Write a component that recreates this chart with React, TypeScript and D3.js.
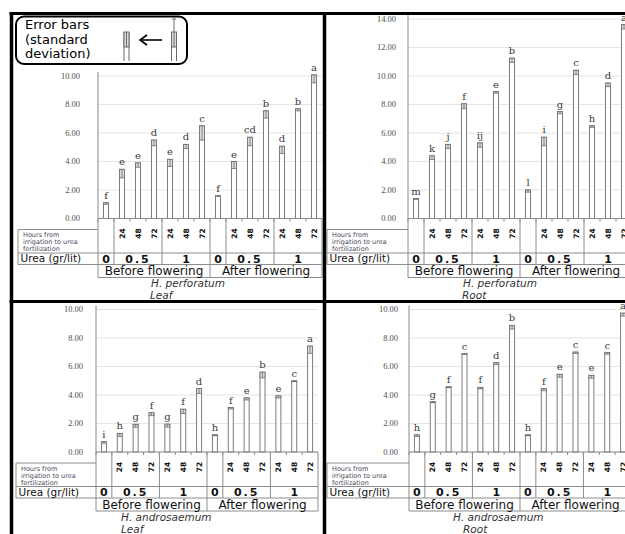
import React from "react";
import * as d3 from "d3";

// Treatment structure shared by every panel
const stages = ["Before flowering", "After flowering"];
const ureaLevels = ["0", "0.5", "1"];
const hourLabels = ["24", "48", "72"];

// H. perforatum – leaf
const perforatumLeafMeans = [1.1, 3.45, 3.9, 5.5, 4.15, 5.2, 6.5, 1.6, 4.0, 5.7, 7.55, 5.07, 7.7, 10.07];
const perforatumLeafSd = [0.1, 0.6, 0.3, 0.4, 0.5, 0.3, 1.0, 0.05, 0.5, 0.6, 0.5, 0.5, 0.15, 0.55];
const perforatumLeafLetters = ["f", "e", "e", "d", "e", "d", "c", "f", "e", "cd", "b", "d", "b", "a"];

// H. perforatum – root
const perforatumRootMeans = [1.4, 4.4, 5.2, 8.05, 5.3, 8.9, 11.25, 2.0, 5.7, 7.5, 10.4, 6.5, 9.5, 13.6];
const perforatumRootSd = [0.05, 0.25, 0.3, 0.35, 0.3, 0.1, 0.3, 0.15, 0.6, 0.15, 0.3, 0.1, 0.25, 0.3];
const perforatumRootLetters = ["m", "k", "j", "f", "ij", "e", "b", "l", "i", "g", "c", "h", "d", "a"];

// H. androsaemum – leaf
const androsaemumLeafMeans = [0.72, 1.3, 1.94, 2.75, 1.95, 3.0, 4.45, 1.2, 3.12, 3.8, 5.6, 3.94, 4.99, 7.43];
const androsaemumLeafSd = [0.1, 0.2, 0.2, 0.2, 0.2, 0.3, 0.35, 0.05, 0.1, 0.15, 0.4, 0.15, 0.05, 0.5];
const androsaemumLeafLetters = ["i", "h", "g", "f", "g", "f", "d", "h", "f", "e", "b", "e", "c", "a"];

// H. androsaemum – root
const androsaemumRootMeans = [1.2, 3.52, 4.57, 6.9, 4.53, 6.27, 8.88, 1.2, 4.45, 5.45, 7.01, 5.38, 6.97, 9.74];
const androsaemumRootSd = [0.1, 0.05, 0.05, 0.05, 0.1, 0.15, 0.25, 0.05, 0.15, 0.2, 0.1, 0.2, 0.1, 0.2];
const androsaemumRootLetters = ["h", "g", "f", "c", "f", "d", "b", "h", "f", "e", "c", "e", "c", "a"];

type Cat = { stage: number; urea: number; hour: number | null };
const categories: Cat[] = [];
stages.forEach((_, s) => {
  ureaLevels.forEach((_, u) => {
    if (u === 0) categories.push({ stage: s, urea: u, hour: null });
    else hourLabels.forEach((_, h) => categories.push({ stage: s, urea: u, hour: h }));
  });
});

const SANS = "'DejaVu Sans', Verdana, sans-serif";
const SERIF = "'Liberation Serif', 'Times New Roman', serif";
const LETTER_SERIF = "'DejaVu Serif', serif";
const GRID = "#e4e4e4";
const TABLE = "#8c8c8c";
const PX_PER_UNIT = 14.25;

type PanelProps = {
  axisX: number;
  plotW: number;
  y0: number;
  yMax: number;
  means: number[];
  sds: number[];
  letters: string[];
  species: string;
  organ: string;
  titleX: number;
  organX: number;
  tickRight: number;
  cellLeft: number;
};

function Panel(p: PanelProps) {
  const { axisX, plotW, y0, yMax } = p;
  const x = d3
    .scaleBand<number>()
    .domain(categories.map((_, i) => i))
    .range([axisX, axisX + plotW]);
  const y = d3.scaleLinear().domain([0, yMax]).range([y0, y0 - yMax * PX_PER_UNIT]);
  const right = axisX + plotW;
  const ticks = d3.range(0, yMax + 0.001, 2);

  // column spans for the urea cells and the stage cells
  const groups: { start: number; count: number; urea: number }[] = [];
  categories.forEach((c, i) => {
    const last = groups[groups.length - 1];
    if (last && categories[last.start].stage === c.stage && last.urea === c.urea) last.count++;
    else groups.push({ start: i, count: 1, urea: c.urea });
  });
  const stageSpans = stages.map((_, s) => {
    const idx = categories.map((c, i) => (c.stage === s ? i : -1)).filter((i) => i >= 0);
    return { start: idx[0], count: idx.length };
  });
  const edge = (i: number) => (i >= categories.length ? right : (x(i) as number));

  const rHours = y0 + 11;
  const rUrea = y0 + 34.5;
  const rStage = y0 + 46;
  const rEnd = y0 + 59;
  const bw = 5;

  return (
    <g>
      {/* gridlines */}
      {ticks.map((t) => (
        <line key={"g" + t} x1={axisX} x2={right} y1={y(t)} y2={y(t)} stroke={GRID} strokeWidth={1} />
      ))}
      {/* y tick labels */}
      {ticks.map((t) => (
        <text
          key={"t" + t}
          x={p.tickRight}
          y={y(t)}
          dy="0.35em"
          textAnchor="end"
          fontFamily={SERIF}
          fontSize={8.5}
          fill="#4d4d4d"
        >
          {t.toFixed(2)}
        </text>
      ))}
      <line x1={axisX} x2={axisX} y1={y(yMax) - 4} y2={y0} stroke="#8a8a8a" strokeWidth={1} />

      {/* bars with error boxes and significance letters */}
      {p.means.map((v, i) => {
        const cx = (x(i) as number) + x.bandwidth() / 2;
        const top = y(v);
        const errBottom = y(Math.max(0, v - p.sds[i]));
        return (
          <g key={"b" + i}>
            <rect x={cx - bw / 2} y={top} width={bw} height={y0 - top} fill="#fff" stroke="#7d7d7d" strokeWidth={1} />
            <rect
              x={cx - bw / 2}
              y={top}
              width={bw}
              height={Math.max(0.8, errBottom - top)}
              fill="#dcdcdc"
              stroke="#6f6f6f"
              strokeWidth={0.8}
            />
            <line x1={cx} x2={cx} y1={top} y2={errBottom} stroke="#6f6f6f" strokeWidth={0.8} />
            <text
              x={cx}
              y={top - 4}
              textAnchor="middle"
              fontFamily={LETTER_SERIF}
              fontSize={10}
              fill="#3a3a3a"
            >
              {p.letters[i]}
            </text>
          </g>
        );
      })}

      {/* data table under the plot */}
      <g stroke={TABLE} strokeWidth={1} fill="none">
        <line x1={axisX} x2={right} y1={y0} y2={y0} />
        {categories.map((_, i) => (
          <line key={"tk" + i} x1={edge(i)} x2={edge(i)} y1={y0} y2={y0 + 3} />
        ))}
        {groups.map((g) => (
          <line key={"gv" + g.start} x1={edge(g.start)} x2={edge(g.start)} y1={y0} y2={rStage} />
        ))}
        <line x1={right} x2={right} y1={y0} y2={rEnd} />
        <line x1={p.cellLeft} x2={axisX} y1={rHours} y2={rHours} />
        <line x1={p.cellLeft} x2={p.cellLeft} y1={rHours} y2={rStage} />
        <line x1={p.cellLeft} x2={right} y1={rUrea} y2={rUrea} />
        <line x1={p.cellLeft} x2={right} y1={rStage} y2={rStage} />
        {stageSpans.map((s) => (
          <line key={"sv" + s.start} x1={edge(s.start)} x2={edge(s.start)} y1={rStage} y2={rEnd} />
        ))}
        <line x1={axisX} x2={right} y1={rEnd} y2={rEnd} />
      </g>

      {["Hours from", "irrigation to urea", "fertilization"].map((s, k) => (
        <text key={"h" + k} x={p.cellLeft + 5} y={rHours + 7.5 + k * 7} fontFamily={SANS} fontSize={6.5} fill="#4a4a5a">
          {s}
        </text>
      ))}
      <text x={p.cellLeft + 2.5} y={rStage - 2.5} fontFamily={SANS} fontSize={10.5} fill="#111">
        Urea (gr/lit)
      </text>

      {categories.map((c, i) =>
        c.hour === null ? null : (
          <text
            key={"hr" + i}
            transform={`translate(${(x(i) as number) + x.bandwidth() / 2},${y0 + 15}) rotate(-90)`}
            textAnchor="middle"
            dy="0.35em"
            fontFamily={SANS}
            fontWeight="bold"
            fontSize={7.5}
            fill="#111"
          >
            {hourLabels[c.hour]}
          </text>
        )
      )}

      {groups.map((g) => (
        <text
          key={"u" + g.start}
          x={(edge(g.start) + edge(g.start + g.count)) / 2}
          y={rStage - 2}
          textAnchor="middle"
          fontFamily={SANS}
          fontWeight="bold"
          fontSize={11}
          letterSpacing={g.urea === 1 ? 2 : 0}
          fill="#111"
        >
          {ureaLevels[g.urea]}
        </text>
      ))}

      {stageSpans.map((s, k) => (
        <text
          key={"st" + k}
          x={(edge(s.start) + edge(s.start + s.count)) / 2}
          y={rEnd - 2.5}
          textAnchor="middle"
          fontFamily={SANS}
          fontSize={12}
          fill="#111"
        >
          {stages[k]}
        </text>
      ))}

      <text x={p.titleX} y={y0 + 68.5} fontFamily={SANS} fontStyle="italic" fontSize={10.5} fill="#333">
        {p.species}
      </text>
      <text x={p.organX} y={y0 + 80.5} fontFamily={SANS} fontStyle="italic" fontSize={10.5} fill="#333">
        {p.organ}
      </text>
    </g>
  );
}

function ErrorBarIcon({ cx, withWhisker }: { cx: number; withWhisker: boolean }) {
  return (
    <g>
      <line x1={cx - 2.5} x2={cx - 2.5} y1={32} y2={61} stroke="#6a6a6a" strokeWidth={1} />
      <line x1={cx + 2.5} x2={cx + 2.5} y1={32} y2={61} stroke="#6a6a6a" strokeWidth={1} />
      <rect x={cx - 2.5} y={32} width={5} height={15} fill="#dcdcdc" stroke="#6a6a6a" strokeWidth={1} />
      <line x1={cx} x2={cx} y1={withWhisker ? 19 : 32} y2={47} stroke="#6a6a6a" strokeWidth={1} />
      {withWhisker && <line x1={cx - 2} x2={cx + 2} y1={19} y2={19} stroke="#6a6a6a" strokeWidth={1} />}
    </g>
  );
}

export default function App() {
  return (
    <svg
      width={625}
      height={534}
      style={{ position: "absolute", left: 0, top: 0, background: "#fff" }}
    >
      <rect width={625} height={534} fill="#fff" />
      <Panel
        axisX={98}
        plotW={224}
        y0={218.5}
        yMax={10}
        means={perforatumLeafMeans}
        sds={perforatumLeafSd}
        letters={perforatumLeafLetters}
        species="H. perforatum"
        organ="Leaf"
        titleX={151}
        organX={150}
        tickRight={80}
        cellLeft={18}
      />
      <Panel
        axisX={408}
        plotW={224}
        y0={218.5}
        yMax={14}
        means={perforatumRootMeans}
        sds={perforatumRootSd}
        letters={perforatumRootLetters}
        species="H. perforatum"
        organ="Root"
        titleX={463}
        organX={462}
        tickRight={396}
        cellLeft={327}
      />
      <Panel
        axisX={96}
        plotW={222}
        y0={452}
        yMax={10}
        means={androsaemumLeafMeans}
        sds={androsaemumLeafSd}
        letters={androsaemumLeafLetters}
        species="H. androsaemum"
        organ="Leaf"
        titleX={121}
        organX={121}
        tickRight={83}
        cellLeft={16}
      />
      <Panel
        axisX={409}
        plotW={222}
        y0={452}
        yMax={10}
        means={androsaemumRootMeans}
        sds={androsaemumRootSd}
        letters={androsaemumRootLetters}
        species="H. androsaemum"
        organ="Root"
        titleX={453}
        organX={463}
        tickRight={398}
        cellLeft={327}
      />

      {/* legend for the error bars */}
      <rect x={16} y={16.5} width={171} height={47.5} rx={8} fill="#fff" stroke="#000" strokeWidth={2} />
      {["Error bars", "(standard", "deviation)"].map((s, k) => (
        <text key={k} x={25} y={29 + k * 14.5} fontFamily={SANS} fontSize={13} fill="#000">
          {s}
        </text>
      ))}
      <ErrorBarIcon cx={126.5} withWhisker={false} />
      <ErrorBarIcon cx={174} withWhisker={true} />
      <line x1={142} x2={162} y1={40} y2={40} stroke="#000" strokeWidth={1.6} />
      <path d="M147,35 L140,40 L147,45" fill="none" stroke="#000" strokeWidth={1.6} />

      {/* panel frames */}
      <g stroke="#000">
        <line x1={9.5} x2={625} y1={13.5} y2={13.5} strokeWidth={3} />
        <line x1={11.5} x2={11.5} y1={12} y2={534} strokeWidth={3.5} />
        <line x1={324.5} x2={324.5} y1={12} y2={534} strokeWidth={3.5} />
        <line x1={9.5} x2={625} y1={301.5} y2={301.5} strokeWidth={3} />
      </g>
    </svg>
  );
}
